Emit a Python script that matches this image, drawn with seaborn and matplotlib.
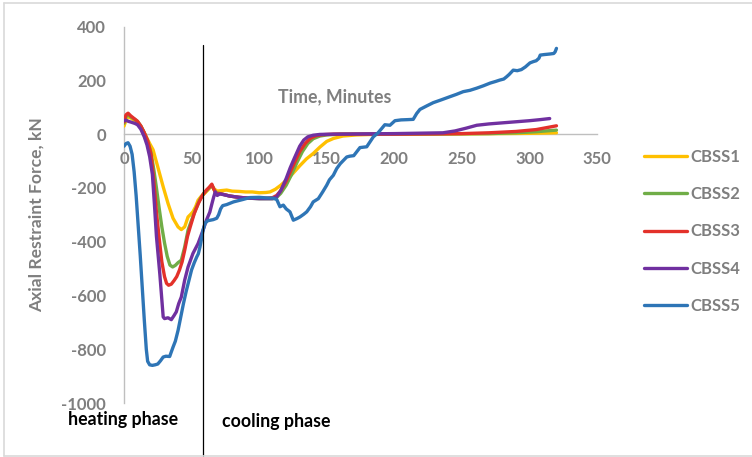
import numpy as np
import pandas as pd
import matplotlib
matplotlib.use("Agg")
import matplotlib.pyplot as plt
from matplotlib.lines import Line2D
import seaborn as sns

# ---- axial restraint force (kN) versus time (minutes) for five specimens ----
t_cbss1 = [0, 1.5, 3, 5, 8, 11, 14, 17, 19, 21.5, 25, 29, 32.6, 36.3, 40, 42.4, 44.9,
           47.4, 49, 51, 53, 54.8, 57, 59.7, 62, 65, 67, 69, 72, 76, 80, 85, 90, 95,
           100, 105, 108, 112, 116, 120, 125, 130, 135, 140, 145, 150, 155, 162, 172,
           185, 200, 250, 280, 300, 320]
f_cbss1 = [30, 52, 65, 60, 50, 38, 15, -15, -35, -58, -122, -196, -258, -313, -345,
           -355, -345, -308, -300, -289, -270, -246, -232, -220, -208, -192, -205, -212,
           -210, -208, -212, -213, -215, -215, -218, -217, -215, -205, -190, -172, -146,
           -118, -92, -72, -48, -27, -16, -7, -3, -1, 0, 1, 2, 3, 5]

t_cbss2 = [0, 1.5, 3, 5, 8, 10, 12.5, 15, 17.5, 20, 22, 24, 26, 28, 30, 32, 34, 36, 38,
           40, 42.4, 44.9, 47.4, 50, 53, 56, 59, 62, 65, 66.5, 68, 72, 78, 85, 92, 100,
           106, 110, 113, 116, 120, 124, 128, 132, 136, 140, 145, 150, 160, 200, 240,
           270, 290, 305, 320]
f_cbss2 = [40, 65, 72, 64, 55, 47, 30, 5, -25, -70, -130, -200, -275, -345, -405, -455,
           -487, -494, -488, -478, -469, -420, -357, -320, -280, -245, -220, -205, -190,
           -205, -218, -222, -230, -235, -238, -240, -240, -240, -235, -220, -190, -150,
           -105, -65, -35, -17, -7, -3, 0, 0, 1, 2, 5, 9, 15]

t_cbss3 = [0, 1.5, 3, 5, 8, 10, 12.5, 15, 17.5, 20, 22, 24, 26, 28, 30, 31.5, 33, 35, 37,
           39, 41, 43, 45, 47, 49, 52, 55, 58, 61, 63, 65, 66.5, 68, 72, 78, 85, 92, 100,
           106, 110, 113, 116, 120, 124, 127, 130, 134, 138, 142, 147, 155, 170, 200,
           230, 250, 270, 290, 305, 320]
f_cbss3 = [45, 72, 78, 68, 56, 48, 30, 5, -25, -75, -170, -290, -385, -475, -530, -555,
           -562, -558, -545, -530, -506, -475, -430, -380, -345, -295, -258, -228, -208,
           -198, -186, -205, -220, -222, -230, -235, -238, -238, -238, -236, -228, -210,
           -175, -130, -97, -65, -35, -15, -6, -2, 0, 0, 0, 1, 2, 5, 10, 17, 31]

t_cbss4 = [0, 1.5, 3, 5, 8, 10, 12.5, 15, 17, 19, 21, 22.5, 24, 26.5, 29, 30, 32.6, 35,
           37, 38.7, 40.5, 42.4, 44.9, 47.4, 51, 54.8, 58.5, 61, 63.5, 65, 66.3, 67.5,
           69, 71, 73.5, 78, 85, 92, 100, 106, 110, 113, 116, 120, 123, 126, 130, 133,
           136, 140, 145, 155, 200, 236, 245, 253, 261, 270, 280, 290, 300, 308, 315]
f_cbss4 = [50, 52, 48, 45, 40, 35, 18, -10, -40, -84, -150, -260, -380, -520, -680, -686,
           -683, -690, -675, -661, -630, -606, -543, -494, -444, -407, -357, -320, -290,
           -260, -235, -215, -228, -222, -225, -230, -235, -238, -240, -240, -240, -233,
           -210, -165, -125, -90, -45, -22, -10, -4, -1, 0, 2, 5, 12, 22, 33, 38, 42, 46,
           50, 54, 58]

t_cbss5 = [0, 1.5, 3, 4.5, 6, 7.5, 9, 10.5, 12, 13.5, 15, 16.5, 17.5, 19, 21, 23, 25, 27,
           29, 31, 33.8, 35, 36.3, 38, 40, 42.4, 44, 46, 48, 50, 52, 53.8, 55, 56.2, 57.5,
           58.5, 60, 62, 64, 66, 68.6, 70, 71.5, 73, 76, 81, 88, 93, 100, 105, 110, 113,
           115.4, 117.9, 120, 122.8, 125.3, 128, 130.2, 133, 135.2, 138, 140, 143.8, 147,
           150, 152, 154.9, 157.4, 160, 164.8, 167, 170, 174.6, 179.6, 184.5, 188, 190.7,
           193, 196.8, 200.5, 205, 210, 214, 216.6, 219, 224, 228.8, 235, 241, 246, 251,
           256, 261, 266, 271, 275, 278, 281, 283, 285, 288, 291, 294, 297, 300.4, 303,
           305, 307, 308, 311, 315, 318, 319, 320]
f_cbss5 = [-45, -35, -32, -45, -75, -140, -230, -340, -450, -570, -690, -800, -845, -858,
           -860, -858, -855, -843, -829, -826, -827, -810, -792, -770, -730, -670, -630,
           -585, -545, -505, -478, -457, -445, -420, -385, -357, -331, -322, -320, -318,
           -313, -300, -278, -266, -262, -252, -243, -236, -235, -237, -238, -243, -270,
           -264, -278, -289, -320, -314, -308, -298, -289, -270, -252, -240, -215, -190,
           -170, -153, -128, -110, -85, -82, -80, -50, -47, -10, 5, 21, 35, 33, 50, 53,
           54, 55, 77, 92, 105, 117, 128, 139, 148, 158, 163, 171, 180, 190, 196, 201,
           205, 213, 222, 238, 236, 240, 250, 265, 270, 273, 282, 294, 296, 298, 300,
           306, 319]

series_names = ["CBSS1", "CBSS2", "CBSS3", "CBSS4", "CBSS5"]
series_times = [t_cbss1, t_cbss2, t_cbss3, t_cbss4, t_cbss5]
series_forces = [f_cbss1, f_cbss2, f_cbss3, f_cbss4, f_cbss5]
series_colors = ["#FFC000", "#70AD47", "#E3312A", "#7030A0", "#2E75B6"]

x_ticks = [0, 50, 100, 150, 200, 250, 300, 350]
y_ticks = [400, 200, 0, -200, -400, -600, -800, -1000]

heating_end = 58.5        # time separating heating and cooling phases
divider_top = 331         # force level where the divider starts
divider_bottom = -1200    # extends below the plotting area

frames = [pd.DataFrame({"Time": t, "Force": f, "Specimen": n})
          for n, t, f in zip(series_names, series_times, series_forces)]
data = pd.concat(frames, ignore_index=True)

# ---- styling ----
sns.set_style("white")
plt.rcParams["font.family"] = ["Lato", "DejaVu Sans"]
plt.rcParams["axes.unicode_minus"] = False

GRAY = "#7F7F7F"
AXIS_GRAY = "#BFBFBF"
W, H = 752, 457

fig = plt.figure(figsize=(W / 100, H / 100), dpi=100)
ax = fig.add_axes([124 / W, 1 - 403 / H, (597 - 124) / W, (403 - 26.6) / H])

sns.lineplot(data=data, x="Time", y="Force", hue="Specimen", hue_order=series_names,
             palette=dict(zip(series_names, series_colors)), estimator=None,
             sort=False, linewidth=2.4, ax=ax)

ax.set_xlim(0, 350)
ax.set_ylim(-1000, 400)
ax.set_xticks(x_ticks)
ax.set_yticks(y_ticks)
ax.set_xlabel("")
ax.set_ylabel("")

for side in ["top", "right"]:
    ax.spines[side].set_visible(False)
ax.spines["bottom"].set_position(("data", 0))
for side in ["bottom", "left"]:
    ax.spines[side].set_color(AXIS_GRAY)
    ax.spines[side].set_linewidth(1.0)
    ax.spines[side].set_zorder(0.5)

ax.tick_params(axis="x", length=0, pad=12, labelsize=12, labelcolor=GRAY)
ax.tick_params(axis="y", length=0, pad=13, labelsize=12, labelcolor=GRAY)
for lbl in ax.get_xticklabels() + ax.get_yticklabels():
    lbl.set_fontweight("bold")

# phase divider
ax.plot([heating_end, heating_end], [divider_top, divider_bottom], color="black",
        linewidth=0.9, clip_on=False, zorder=5)

# axis titles
fig.text(335 / W, 1 - 97 / H, "Time, Minutes", ha="center", va="center",
         fontsize=12.8, fontweight="bold", color=GRAY)
fig.text(37 / W, 1 - 215 / H, "Axial Restraint Force, kN", ha="center", va="center",
         rotation=90, fontsize=12.6, fontweight="bold", color=GRAY)

# phase labels
fig.text(123 / W, 1 - 420 / H, "heating phase", ha="center", va="center",
         fontsize=12.8, fontweight="bold", color="black")
fig.text(276 / W, 1 - 422 / H, "cooling phase", ha="center", va="center",
         fontsize=12.8, fontweight="bold", color="black")

# legend
handles, labels = ax.get_legend_handles_labels()
leg = ax.legend(handles, labels, loc="upper left", bbox_to_anchor=(644 / W, 1 - 149 / H),
                bbox_transform=fig.transFigure, frameon=False, borderpad=0,
                borderaxespad=0, handlelength=2.6, handletextpad=0.2,
                labelspacing=1.27, prop={"size": 12, "weight": "bold"})
for txt in leg.get_texts():
    txt.set_color(GRAY)
for line in leg.get_lines():
    line.set_linewidth(2.4)

# chart area border
border = "#D9D9D9"
fig.add_artist(Line2D([4 / W, 1], [1 - 3 / H, 1 - 3 / H], color=border, lw=1.2))
fig.add_artist(Line2D([4 / W, 1], [1 - 456 / H, 1 - 456 / H], color=border, lw=1.2))
fig.add_artist(Line2D([4 / W, 4 / W], [1 - 3 / H, 1 - 456 / H], color=border, lw=1.2))

fig.savefig("out.png", dpi=100, facecolor="white")
